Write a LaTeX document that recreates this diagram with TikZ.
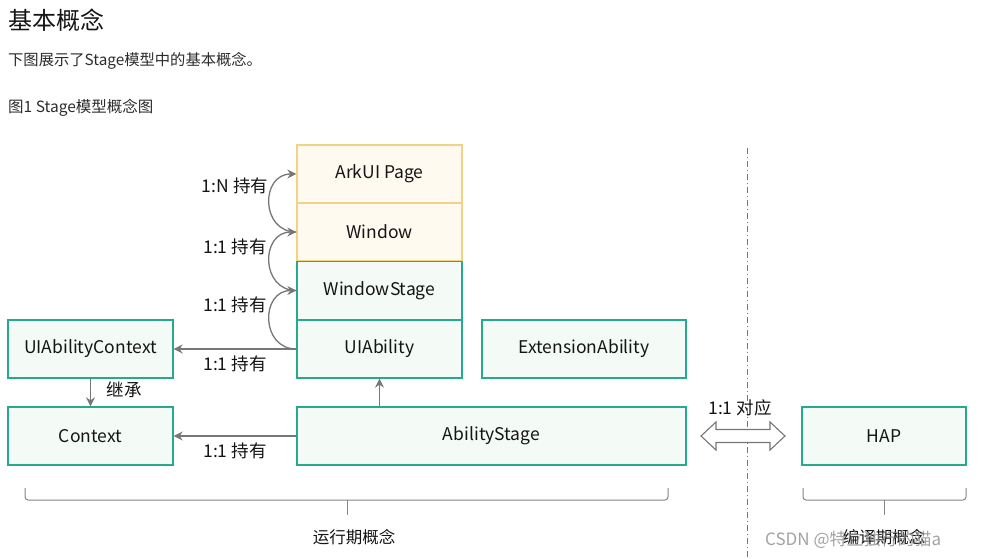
\documentclass[tikz,border=0pt]{standalone}
\usepackage{fontspec}
\setmainfont{Noto Sans CJK SC}
\usetikzlibrary{arrows.meta,calc}
\definecolor{txt}{HTML}{151515}
\definecolor{arr}{HTML}{777777}
\definecolor{tealb}{HTML}{27A98B}
\definecolor{greenf}{HTML}{F4FAF5}
\definecolor{yelb}{HTML}{F2D383}
\definecolor{yelf}{HTML}{FFFAEF}
\tikzset{
  gbox/.style={draw=tealb,fill=greenf,line width=1.3pt,inner sep=0pt,font=\fontsize{17.5}{20}\selectfont,text=txt},
  ybox/.style={draw=yelb,fill=yelf,line width=1.3pt,inner sep=0pt,font=\fontsize{17.5}{20}\selectfont,text=txt},
  lbl/.style={font=\fontsize{17.5}{20}\selectfont,text=txt,inner sep=0pt},
  conn/.style={draw=arr,line width=1.3pt,-{Stealth[length=9pt,width=9pt]}},
  brace/.style={draw=arr!90,line width=1pt},
}
\begin{document}
\begin{tikzpicture}[x=1pt,y=-1pt]
\useasboundingbox[fill=white] (0,0) rectangle (983,558);
% header texts
\node[anchor=west,font=\fontsize{24}{28}\selectfont,text=txt,inner sep=0pt] (title) at (8,20) {基本概念};
\node[anchor=west,font=\fontsize{15.3}{18}\selectfont,text=txt!90,inner sep=0pt] (desc) at (8,61) {下图展示了Stage模型中的基本概念。};
\node[anchor=west,font=\fontsize{15.5}{18}\selectfont,text=txt!90,inner sep=0pt] (cap) at (8,108) {图1 Stage模型概念图};
% boxes
\node[ybox,minimum width=165pt,minimum height=58pt] (ark) at (379.5,174) {ArkUI Page};
\node[ybox,minimum width=165pt,minimum height=58pt] (win) at (379.5,232) {Window};
\node[gbox,minimum width=165pt,minimum height=58pt] (ws) at (379.5,290.5) {WindowStage};
\node[gbox,minimum width=165pt,minimum height=58pt] (uia) at (379.5,349) {UIAbility};
\node[gbox,minimum width=165pt,minimum height=58pt] (uiac) at (90.5,349) {UIAbilityContext};
\node[gbox,minimum width=204pt,minimum height=58pt] (ext) at (584,349) {ExtensionAbility};
\node[gbox,minimum width=165pt,minimum height=58pt] (ctx) at (90.5,436) {Context};
\node[gbox,minimum width=389pt,minimum height=58pt] (as) at (491.5,436) {AbilityStage};
\node[gbox,minimum width=164pt,minimum height=58pt] (hap) at (884,436) {HAP};
% straight connectors
\draw[conn] (uia.west) -- (uiac.east);
\draw[conn] (as.west |- ctx.east) -- (ctx.east);
\draw[conn] (uiac.south) -- (ctx.north);
\draw[conn] (as.north -| uia.south) -- (uia.south);
% curved holds
\draw[conn] (uia.west) .. controls +(-36,0) and +(-36,0) .. (ws.west);
\draw[conn] (ws.west) .. controls +(-36,0) and +(-36,0) .. (win.west);
\draw[conn] (win.west) .. controls +(-36,0) and +(-36,0) .. (ark.west);
% labels
\node[lbl] (l1) at (235,186) {1:N 持有};
\node[lbl] (l2) at (235,247) {1:1 持有};
\node[lbl] (l3) at (235,305) {1:1 持有};
\node[lbl] (l4) at (235,364) {1:1 持有};
\node[lbl] (l5) at (235,451) {1:1 持有};
\node[lbl] (l6) at (124,390) {继承};
\node[lbl] (l7) at (740,408) {1:1 对应};
% divider
\draw[arr,line width=0.9pt,dash pattern=on 6pt off 3pt on 1pt off 3pt] (747,148) -- (747,558);
% hollow double arrow
\draw[arr,line width=1.1pt,fill=white,line join=miter] (701,436) -- (716,422) -- (716,429.5) -- (770,429.5) -- (770,422) -- (785,436) -- (770,450) -- (770,442.5) -- (716,442.5) -- (716,450) -- cycle;
% braces
\draw[brace,rounded corners=3pt] (25,488) -- (25,500) -- (668,500) -- (668,488);
\draw[brace] (347,500) -- (347,515);
\node[lbl,font=\fontsize{16.5}{19}\selectfont] (rt) at (354,537) {运行期概念};
\draw[brace,rounded corners=3pt] (803,488) -- (803,500) -- (966,500) -- (966,488);
\draw[brace] (884,500) -- (884,515);
\node[lbl,font=\fontsize{16.5}{19}\selectfont] (ct) at (884,537) {编译期概念};
% watermark
\node[anchor=west,font=\fontsize{17}{19}\selectfont,text=black!45,opacity=0.8,inner sep=0pt] (wm) at (765,540) {CSDN @特立独行的猫a};
\end{tikzpicture}
\end{document}
